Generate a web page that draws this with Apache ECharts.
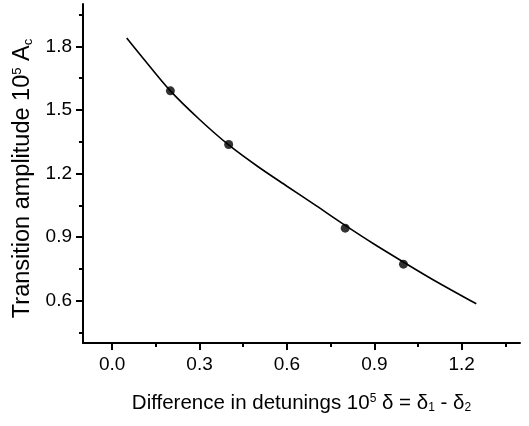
<!DOCTYPE html>
<html>
<head>
<meta charset="utf-8">
<script src="https://cdn.jsdelivr.net/npm/echarts@6/dist/echarts.min.js"></script>
<style>html,body{margin:0;padding:0;background:#fff}#c{width:529px;height:426px}</style>
</head>
<body>
<div id="c"></div>
<script>
// measured points
const pointX = [0.2, 0.4, 0.8, 1.0];
const pointY = [1.59, 1.337, 0.942, 0.772];
// fitted curve
const curveX = [0.05, 0.1, 0.2, 0.3, 0.4, 0.5, 0.6, 0.7, 0.8, 0.9, 1.0, 1.1, 1.25];
const curveY = [1.84, 1.755, 1.59, 1.455, 1.335, 1.233, 1.14, 1.048, 0.955, 0.866, 0.782, 0.70, 0.585];
// ticks
const xMajor = [0.0, 0.3, 0.6, 0.9, 1.2];
const xMinor = [-0.15, 0.15, 0.45, 0.75, 1.05, 1.35];
const yMajor = [0.6, 0.9, 1.2, 1.5, 1.8];
const yMinor = [0.45, 0.75, 1.05, 1.35, 1.65, 1.95];

const FONT = 'Liberation Sans, Arial, sans-serif';
const chart = echarts.init(document.getElementById('c'));
const base = {type: 'value', min: -0.1, max: 1.4};
const ybase = {type: 'value', min: 0.4, max: 2.0};
const richX = {
  sup: {fontSize: 12, verticalAlign: 'top', padding: [0,0,9,0], fontFamily: FONT, color:'#000'},
  sub: {fontSize: 12, verticalAlign: 'bottom', padding: [9,0,0,0], fontFamily: FONT, color:'#000'}
};
const richY = {
  sup: {fontSize: 13, verticalAlign: 'top', padding: [0,0,10,0], fontFamily: FONT, color:'#000'},
  sub: {fontSize: 13, verticalAlign: 'bottom', padding: [10,0,0,0], fontFamily: FONT, color:'#000'}
};
chart.setOption({
  animation: false,
  grid: {left: 83, right: 9, top: 4, bottom: 83},
  xAxis: [
    Object.assign({}, base, {
      position: 'bottom',
      axisLine: {show: true, onZero: false, lineStyle: {color: '#000', width: 2}},
      axisTick: {show: true, inside: false, length: 7, lineStyle: {color: '#000', width: 2}, customValues: xMajor},
      axisLabel: {show: true, color: '#000', fontFamily: FONT, fontSize: 19, margin: 12,
        customValues: xMajor, formatter: v => v.toFixed(1)},
      splitLine: {show: false},
      name: 'Difference in detunings 10{sup|5} δ = δ{sub|1} - δ{sub|2}',
      nameLocation: 'middle', nameGap: 50,
      nameTextStyle: {color: '#000', fontFamily: FONT, fontSize: 20.5, rich: richX}
    }),
    Object.assign({}, base, {
      position: 'bottom',
      axisLine: {show: false, onZero: false},
      axisTick: {show: true, length: 4, lineStyle: {color: '#000', width: 2}, customValues: xMinor},
      axisLabel: {show: false},
      splitLine: {show: false}
    })
  ],
  yAxis: [
    Object.assign({}, ybase, {
      position: 'left',
      axisLine: {show: true, onZero: false, lineStyle: {color: '#000', width: 2}},
      axisTick: {show: true, length: 7, lineStyle: {color: '#000', width: 2}, customValues: yMajor},
      axisLabel: {show: true, color: '#000', fontFamily: FONT, fontSize: 19, margin: 11,
        customValues: yMajor, formatter: v => v.toFixed(1)},
      splitLine: {show: false},
      name: 'Transition amplitude 10{sup|5} A{sub|c}',
      nameLocation: 'middle', nameGap: 43, nameRotate: 90,
      nameTextStyle: {color: '#000', fontFamily: FONT, fontSize: 23.5, rich: richY, padding: [0, 10, 0, 0]}
    }),
    Object.assign({}, ybase, {
      position: 'left',
      axisLine: {show: false, onZero: false},
      axisTick: {show: true, length: 4, lineStyle: {color: '#000', width: 2}, customValues: yMinor},
      axisLabel: {show: false},
      splitLine: {show: false}
    })
  ],
  series: [
    {
      type: 'line', xAxisIndex: 0, yAxisIndex: 0,
      data: curveX.map((x, i) => [x, curveY[i]]),
      smooth: 0.3, showSymbol: false, symbol: 'none',
      lineStyle: {color: '#000', width: 1.6}
    },
    {
      type: 'scatter', xAxisIndex: 0, yAxisIndex: 0,
      data: pointX.map((x, i) => [x, pointY[i]]),
      symbol: 'circle', symbolSize: 9,
      itemStyle: {color: '#000'}
    }
  ]
});
</script>
</body>
</html>
